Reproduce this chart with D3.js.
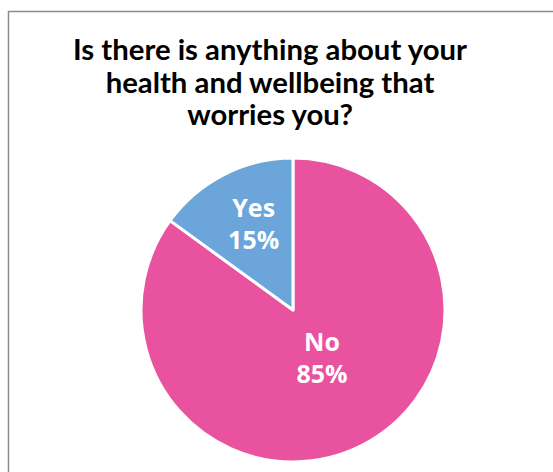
<!DOCTYPE html>
<html>
<head>
<meta charset="utf-8">
<script src="https://cdn.jsdelivr.net/npm/d3@7"></script>
<style>
  html, body { margin: 0; padding: 0; background: #fff; }
  svg { display: block; }
</style>
</head>
<body>
<svg id="chart" width="553" height="472"></svg>
<script>
// Survey answers
const categories = ["No", "Yes"];
const percents = [85, 15];
const colors = ["#E8529F", "#6BA5D9"];
const titleLines = ["Is there is anything about your", "health and wellbeing that", "worries you?"];

const svg = d3.select("#chart");

// chart frame
svg.append("rect")
  .attr("x", 8.5).attr("y", 11.5)
  .attr("width", 600).attr("height", 500)
  .attr("fill", "#fff")
  .attr("stroke", "#8c8c8c").attr("stroke-width", 1.5);

// title
const title = svg.append("text")
  .attr("text-anchor", "middle")
  .attr("font-family", "Lato, 'DejaVu Sans', sans-serif")
  .attr("font-weight", "bold")
  .attr("font-size", 28)
  .attr("fill", "#000");
title.selectAll("tspan")
  .data(titleLines)
  .join("tspan")
  .attr("x", 270)
  .attr("y", (d, i) => 60 + i * 32.5)
  .text(d => d);

// fit the first title line to the frame's title width
const firstW = title.select("tspan").node().getComputedTextLength();
if (firstW > 0) title.attr("font-size", 28 * 394 / firstW);

const cx = 293, cy = 310, R = 152;
const data = categories.map((c, i) => ({ name: c, value: percents[i], color: colors[i] }));

const pie = d3.pie().value(d => d.value).sort(null);
const arc = d3.arc().innerRadius(0).outerRadius(R);
const arcs = pie(data);

const g = svg.append("g").attr("transform", `translate(${cx},${cy})`);

g.selectAll("path")
  .data(arcs)
  .join("path")
  .attr("d", arc)
  .attr("fill", d => d.data.color)
  .attr("stroke", "#fff")
  .attr("stroke-width", 3)
  .attr("stroke-linejoin", "round");

// labels placed along each slice's bisector
const labelFrac = { No: 0.42, Yes: 0.57 };
const labels = g.selectAll("text.lbl")
  .data(arcs)
  .join("text")
  .attr("class", "lbl")
  .attr("text-anchor", "middle")
  .attr("font-family", "'Open Sans', sans-serif")
  .attr("font-weight", 700)
  .attr("font-size", 25)
  .attr("fill", "#fff")
  .attr("transform", d => {
    const r = R * labelFrac[d.data.name];
    const a = (d.startAngle + d.endAngle) / 2;
    return `translate(${Math.sin(a) * r},${-Math.cos(a) * r})`;
  });

labels.append("tspan").attr("x", 0).attr("y", -16).text(d => d.data.name);
labels.append("tspan").attr("x", 0).attr("y", 16.5).text(d => d.data.value + "%");
</script>
</body>
</html>
